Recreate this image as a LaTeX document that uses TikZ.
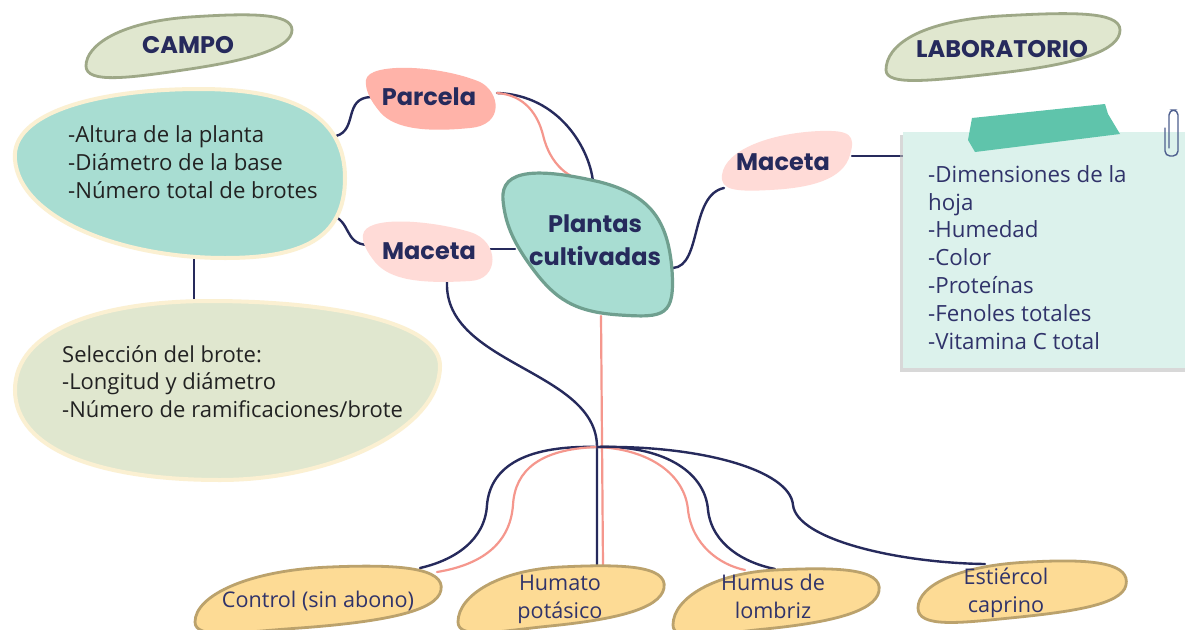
\documentclass[tikz,border=0pt]{standalone}
\usepackage{fontspec}
\setmainfont{Open Sans}
\newfontfamily\headfont{Poppins}
\definecolor{navy}{HTML}{262A5C}
\definecolor{salmonline}{HTML}{F5978D}
\definecolor{paleg}{HTML}{E0E7CF}
\definecolor{palegb}{HTML}{9EA887}
\definecolor{teal}{HTML}{A8DDD2}
\definecolor{tealb}{HTML}{6F9F8F}
\definecolor{cream}{HTML}{FBF0D2}
\definecolor{parc}{HTML}{FFB3A9}
\definecolor{pinkl}{HTML}{FFDBD7}
\definecolor{leaf}{HTML}{FDDB95}
\definecolor{leafb}{HTML}{BBA26C}
\definecolor{note}{HTML}{DCF2EC}
\definecolor{tape}{HTML}{5FC4AB}
\definecolor{clipcol}{HTML}{4E5F8E}
\definecolor{txt}{HTML}{222222}
\definecolor{txtn}{HTML}{30336A}
\tikzset{
  heading/.style={font=\headfont\bfseries\fontsize{24}{33}\selectfont, text=navy, align=center, inner sep=0pt},
  body/.style={font=\fontsize{22.2}{28}\selectfont, text=txt, align=left, anchor=base west, inner sep=0pt},
  notetxt/.style={font=\fontsize{22.3}{27.8}\selectfont, text=txtn, align=left, anchor=base west, inner sep=0pt},
  leaftxt/.style={font=\fontsize{21.6}{28}\selectfont, text=txtn, align=center, anchor=base, inner sep=0pt},
  conn/.style={draw=navy, line width=2.4pt, line cap=round},
  sconn/.style={draw=salmonline, line width=2.2pt, line cap=round},
  leafshape/.style={fill=leaf, draw=leafb, line width=2.8pt},
  clipline/.style={draw=clipcol, line width=1.4pt, line cap=round, rounded corners=5pt},
}
\begin{document}
\begin{tikzpicture}[x=1pt,y=-1pt]
\useasboundingbox (0,0) rectangle (1185,629);
\fill[white] (0,0) rectangle (1185,629);

% ---------- connector end points ----------
\coordinate (tealR1) at (336,136);
\coordinate (parcL) at (371,97);
\coordinate (tealR2) at (330,215);
\coordinate (macLl) at (368,245);
\coordinate (parcR) at (497,93);
\coordinate (plTop) at (593,182);
\coordinate (plTopS) at (588,181);
\coordinate (macLr) at (490,249);
\coordinate (plLeft) at (515,249);
\coordinate (macLb) at (447,282);
\coordinate (hub) at (597,447);
\coordinate (humTop) at (597,566);
\coordinate (plBot) at (601,316);
\coordinate (humTopS) at (603,566);
\coordinate (ctrlN) at (420,568);
\coordinate (ctrlS) at (437,572);
\coordinate (hmsN) at (775,569);
\coordinate (hmsS) at (745,570);
\coordinate (estN) at (985,564);
\coordinate (plRight) at (673,268);
\coordinate (macRl) at (724,188);
\coordinate (macRr) at (852,156);
\coordinate (noteL) at (903,156);
\coordinate (tealB) at (194,257);
\coordinate (greenT) at (194,301);

\path[conn] (tealR1) .. controls (358,130) and (343,98) .. (parcL);
\path[conn] (tealR2) .. controls (352,220) and (343,244) .. (macLl);
\path[conn] (parcR) .. controls (560,95) and (590,150) .. (plTop);
\path[sconn] (parcR) .. controls (525,95) and (538,115) .. (543,135) .. controls (550,165) and (570,180) .. (plTopS);
\path[conn] (macLr) -- (plLeft);
\path[sconn] (plBot) -- (humTopS);
\path[conn] (macLb) .. controls (444,365) and (597,370) .. (hub) -- (humTop);
\path[conn] (hub) .. controls (520,445) and (490,470) .. (487,505) .. controls (485,540) and (455,560) .. (ctrlN);
\path[sconn] (hub) .. controls (540,449) and (515,470) .. (513,505) .. controls (510,545) and (480,565) .. (ctrlS);
\path[conn] (hub) .. controls (660,445) and (705,470) .. (708,510) .. controls (712,545) and (745,563) .. (hmsN);
\path[sconn] (hub) .. controls (650,449) and (685,475) .. (688,510) .. controls (692,545) and (720,565) .. (hmsS);
\path[conn] (hub) .. controls (700,445) and (790,470) .. (793,505) .. controls (797,540) and (900,563) .. (estN);
\path[conn] (plRight) .. controls (702,266) and (690,195) .. (macRl);
\path[conn] (macRr) -- (noteL);
\path[conn] (tealB) -- (greenT);

% ---------- blobs ----------
% CAMPO
\path[fill=paleg, draw=palegb, line width=2.8pt] (86,66) .. controls (86,45) and (120,22) .. (190,17) .. controls (250,13) and (292,13) .. (292,30) .. controls (292,48) and (250,60) .. (190,69) .. controls (130,78) and (86,84) .. cycle;
\node[heading] (campo) at (188,45) {CAMPO};

% LABORATORIO
\path[fill=paleg, draw=palegb, line width=2.8pt] (886,70) .. controls (886,45) and (920,21) .. (1000,16) .. controls (1070,12) and (1120,11) .. (1120,30) .. controls (1120,50) and (1080,64) .. (1000,73) .. controls (930,81) and (886,86) .. cycle;
\node[heading] (lab) at (1002,49) {LABORATORIO};

% Teal blob
\path[fill=teal, draw=cream, line width=4pt] (15,160) .. controls (10,112) and (100,89) .. (200,89) .. controls (300,89) and (345,120) .. (345,178) .. controls (345,240) and (300,258) .. (225,258) .. controls (120,258) and (20,218) .. cycle;
\node[body] (campolist) at (68,198) {-Altura de la planta\\-Diámetro de la base\\-Número total de brotes};

% Green blob
\path[fill=paleg, draw=cream, line width=4pt] (15,390) .. controls (15,330) and (100,301) .. (210,301) .. controls (330,301) and (440,322) .. (440,366) .. controls (440,430) and (330,480) .. (220,480) .. controls (100,480) and (15,450) .. cycle;
\node[body, font=\fontsize{22}{27.5}\selectfont] (brote) at (62,417) {Selección del brote:\\-Longitud y diámetro\\-Número de ramificaciones/brote};

% Parcela
\path[fill=parc] (366,80) .. controls (368,62) and (440,65) .. (480,82) .. controls (500,92) and (505,125) .. (470,128) .. controls (430,132) and (395,130) .. (380,112) .. controls (370,100) and (365,90) .. cycle;
\node[heading] (parcela) at (429,97) {Parcela};

% Maceta left
\path[fill=pinkl] (363,235) .. controls (365,215) and (430,220) .. (470,232) .. controls (500,241) and (500,280) .. (470,281) .. controls (420,284) and (390,280) .. (375,262) .. controls (367,252) and (362,243) .. cycle;
\node[heading] (macetaL) at (429,251) {Maceta};

% Maceta right
\path[fill=pinkl] (722,175) .. controls (725,150) and (770,133) .. (820,131) .. controls (850,130) and (856,135) .. (850,155) .. controls (843,180) and (810,188) .. (770,190) .. controls (735,192) and (720,190) .. cycle;
\node[heading] (macetaR) at (783,162) {Maceta};

% Plantas cultivadas
\path[fill=teal, draw=tealb, line width=3.2pt] (503,200) .. controls (500,168) and (540,168) .. (600,182) .. controls (650,195) and (668,220) .. (672,270) .. controls (675,316) and (665,318) .. (620,315) .. controls (575,312) and (555,300) .. (530,265) .. controls (512,240) and (505,222) .. cycle;
\node[heading] (plantas) at (595,240) {Plantas\\cultivadas};

% Sticky note
\fill[black!25, opacity=0.6] (900,135) rectangle (1188,372);
\fill[note] (903,132) rectangle (1188,368);
\fill[tape] (972,118) -- (1105,104) -- (1108,114) -- (1120,134) -- (975,152) -- (968,140) -- cycle;
\path[clipline] (1165,128) -- (1165,156) -- (1178,156) -- (1178,110) -- (1169,110) -- (1169,148);
\node[notetxt] (labList) at (928,349) {-Dimensiones de la\\hoja\\-Humedad\\-Color\\-Proteínas\\-Fenoles totales\\-Vitamina C total};

% Bottom leaves
\path[leafshape] (195,622) .. controls (195,595) and (250,570) .. (330,567) .. controls (400,564) and (445,568) .. (441,590) .. controls (437,612) and (380,622) .. (300,628) .. controls (240,632) and (195,640) .. cycle;
\node[leaftxt] (control) at (318,607) {Control (sin abono)};

\path[leafshape] (458,622) .. controls (458,595) and (500,570) .. (560,567) .. controls (620,564) and (668,565) .. (664,588) .. controls (660,610) and (610,620) .. (550,626) .. controls (500,631) and (458,640) .. cycle;
\node[leaftxt] (humato) at (560,618) {Humato\\potásico};

\path[leafshape] (673,625) .. controls (673,598) and (715,573) .. (775,570) .. controls (835,567) and (883,568) .. (879,591) .. controls (875,613) and (825,623) .. (765,629) .. controls (715,634) and (673,643) .. cycle;
\node[leaftxt] (humus) at (773,618) {Humus de\\lombriz};

\path[leafshape] (918,608) .. controls (918,585) and (960,565) .. (1030,562) .. controls (1100,558) and (1130,565) .. (1126,585) .. controls (1122,605) and (1070,612) .. (1010,618) .. controls (960,623) and (918,628) .. cycle;
\node[leaftxt] (estiercol) at (1006,612) {Estiércol\\caprino};
\end{tikzpicture}
\end{document}
